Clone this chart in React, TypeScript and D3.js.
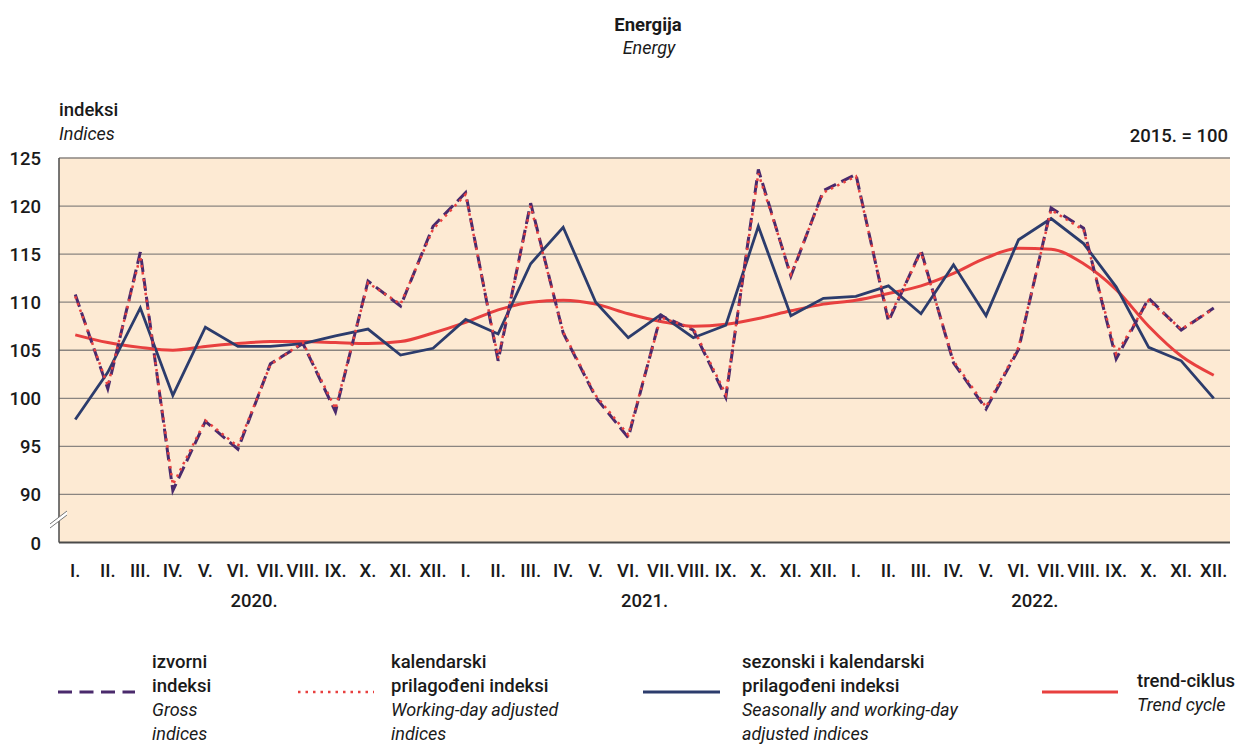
import React from "react";
import * as d3 from "d3";

const monthLabels = ["I.", "II.", "III.", "IV.", "V.", "VI.", "VII.", "VIII.", "IX.", "X.", "XI.", "XII."];
const years = ["2020.", "2021.", "2022."];
const yTicks = [90, 95, 100, 105, 110, 115, 120, 125];

// izvorni indeksi / Gross indices
const gross = [
  110.8, 101.0, 115.2, 90.4, 97.6, 94.7, 103.6, 105.7, 98.6, 112.2, 109.6, 117.9,
  121.4, 103.9, 120.3, 106.8, 100.1, 95.9, 108.6, 107.1, 100.1, 123.8, 112.7, 121.6,
  123.3, 108.0, 115.4, 103.7, 98.9, 105.1, 119.8, 117.7, 104.1, 110.4, 107.1, 109.4,
];
// kalendarski prilagođeni indeksi / Working-day adjusted indices
const workingDay = [
  110.6, 101.3, 114.8, 91.0, 97.7, 95.0, 103.5, 105.8, 98.9, 112.0, 109.8, 117.6,
  121.2, 104.2, 120.0, 106.9, 100.3, 96.2, 108.4, 107.3, 100.4, 123.4, 112.9, 121.4,
  123.1, 108.3, 115.2, 103.9, 99.1, 105.3, 119.6, 117.5, 104.6, 110.2, 107.2, 109.3,
];
// sezonski i kalendarski prilagođeni indeksi / Seasonally and working-day adjusted
const seasonal = [
  97.8, 102.7, 109.4, 100.3, 107.4, 105.4, 105.4, 105.7, 106.5, 107.2, 104.5, 105.2,
  108.2, 106.7, 114.0, 117.8, 110.0, 106.3, 108.7, 106.3, 107.6, 117.9, 108.6, 110.4,
  110.6, 111.7, 108.8, 113.9, 108.6, 116.5, 118.7, 116.1, 111.6, 105.3, 103.9, 100.0,
];
// trend-ciklus / Trend cycle
const trend = [
  106.6, 105.8, 105.3, 105.0, 105.4, 105.7, 105.9, 105.9, 105.8, 105.7, 105.9, 106.8,
  107.9, 109.2, 110.0, 110.2, 109.8, 108.8, 108.0, 107.5, 107.7, 108.3, 109.1, 109.8,
  110.2, 110.9, 111.7, 113.0, 114.6, 115.6, 115.5, 114.0, 111.3, 107.5, 104.4, 102.4,
];

const FONT = "'Roboto', 'Liberation Sans', sans-serif";

export default function App() {
  const W = 1238, H = 744;
  const left = 59, right = 1230, top = 158, bottom = 542.5;
  const n = gross.length;
  const x = d3.scaleBand<number>().domain(d3.range(n)).range([left, right]);
  const cx = (i: number) => (x(i) as number) + x.bandwidth() / 2;
  const y = d3.scaleLinear().domain([85, 125]).range([bottom, top]);

  const line = d3.line<number>().x((_, i) => cx(i)).y((v) => y(v));
  const smooth = d3.line<number>().x((_, i) => cx(i)).y((v) => y(v)).curve(d3.curveMonotoneX);

  const purple = "#4a2a6c";
  const red = "#e8403f";
  const navy = "#2c3c6c";
  const txt = "#1a1a1a";

  const legendY = 692;
  const base = [668, 692, 716, 740];
  const fw = 500;

  return (
    <svg width={W} height={H} style={{ position: "absolute", left: 0, top: 0, fontFamily: FONT }}>
      <rect x={0} y={0} width={W} height={H} fill="#ffffff" />
      {/* title */}
      <text x={648} y={31} textAnchor="middle" fontSize={18.5} fontWeight="bold" fill={txt}>Energija</text>
      <text x={649} y={54} textAnchor="middle" fontSize={18} fontStyle="italic" fill={txt}>Energy</text>

      <text x={59} y={116} fontSize={18.5} fontWeight={fw} fill={txt}>indeksi</text>
      <text x={59} y={140} fontSize={18} fontStyle="italic" fill={txt}>Indices</text>
      <text x={1228} y={142} textAnchor="end" fontSize={18.5} fontWeight={fw} fill={txt}>2015. = 100</text>

      {/* plot background */}
      <rect x={left} y={top} width={right - left} height={bottom - top} fill="#fdead3" />
      {yTicks.map((t) => (
        <line key={t} x1={left} x2={right} y1={y(t)} y2={y(t)} stroke="#8a8580" strokeWidth={1.3} />
      ))}
      {/* axes */}
      <line x1={left} x2={left} y1={top} y2={bottom} stroke="#4a4a4a" strokeWidth={1.5} />
      <line x1={left} x2={right} y1={bottom} y2={bottom} stroke="#4a4a4a" strokeWidth={2} />
      {/* axis break */}
      <polygon points={`50,524 67,511 67,515 50,528`} fill="#ffffff" />
      <line x1={50} y1={524} x2={67} y2={511} stroke="#777" strokeWidth={1} />
      <line x1={50} y1={528} x2={67} y2={515} stroke="#777" strokeWidth={1} />

      {/* y tick labels */}
      {yTicks.map((t) => (
        <text key={t} x={41} y={y(t) + 7} textAnchor="end" fontSize={18.5} fontWeight={fw} fill={txt}>{t}</text>
      ))}
      <text x={41} y={y(85) + 7} textAnchor="end" fontSize={18.5} fontWeight={fw} fill={txt}>0</text>

      {/* x labels */}
      {d3.range(n).map((i) => (
        <text key={i} x={cx(i)} y={577} textAnchor="middle" fontSize={18.5} fontWeight={fw} fill={txt}>{monthLabels[i % 12]}</text>
      ))}
      {years.map((yr, k) => (
        <text key={yr} x={left + (k * 12 + 6) * x.bandwidth()} y={607} textAnchor="middle" fontSize={18.5} fontWeight={fw} fill={txt}>{yr}</text>
      ))}

      {/* series */}
      <path d={smooth(trend) || ""} fill="none" stroke={red} strokeWidth={3} />
      <path d={line(seasonal) || ""} fill="none" stroke={navy} strokeWidth={2.8} />
      <path d={line(gross) || ""} fill="none" stroke={purple} strokeWidth={3} strokeDasharray="13,6" />
      <path d={line(workingDay) || ""} fill="none" stroke={red} strokeWidth={2.5} strokeDasharray="2.5,4.5" />

      {/* legend */}
      <line x1={58} x2={135} y1={legendY} y2={legendY} stroke={purple} strokeWidth={3} strokeDasharray="14,7.5" />
      <text x={152} y={base[0]} fontSize={18.5} fontWeight={fw} fill={txt}>izvorni</text>
      <text x={152} y={base[1]} fontSize={18.5} fontWeight={fw} fill={txt}>indeksi</text>
      <text x={152} y={base[2]} fontSize={18} fontStyle="italic" fill={txt}>Gross</text>
      <text x={152} y={base[3]} fontSize={18} fontStyle="italic" fill={txt}>indices</text>

      <line x1={298} x2={374} y1={legendY} y2={legendY} stroke={red} strokeWidth={2.5} strokeDasharray="2.5,5" />
      <text x={391} y={base[0]} fontSize={18.5} fontWeight={fw} fill={txt}>kalendarski</text>
      <text x={391} y={base[1]} fontSize={18.5} fontWeight={fw} fill={txt}>prilagođeni indeksi</text>
      <text x={391} y={base[2]} fontSize={18} fontStyle="italic" fill={txt}>Working-day adjusted</text>
      <text x={391} y={base[3]} fontSize={18} fontStyle="italic" fill={txt}>indices</text>

      <line x1={643} x2={720} y1={legendY} y2={legendY} stroke={navy} strokeWidth={3} />
      <text x={742} y={base[0]} fontSize={18.5} fontWeight={fw} fill={txt}>sezonski i kalendarski</text>
      <text x={742} y={base[1]} fontSize={18.5} fontWeight={fw} fill={txt}>prilagođeni indeksi</text>
      <text x={742} y={base[2]} fontSize={18} fontStyle="italic" fill={txt}>Seasonally and working-day</text>
      <text x={742} y={base[3]} fontSize={18} fontStyle="italic" fill={txt}>adjusted indices</text>

      <line x1={1042} x2={1118} y1={legendY} y2={legendY} stroke={red} strokeWidth={3} />
      <text x={1137} y={687} fontSize={18.5} fontWeight={fw} fill={txt}>trend-ciklus</text>
      <text x={1137} y={711} fontSize={18} fontStyle="italic" fill={txt}>Trend cycle</text>
    </svg>
  );
}
